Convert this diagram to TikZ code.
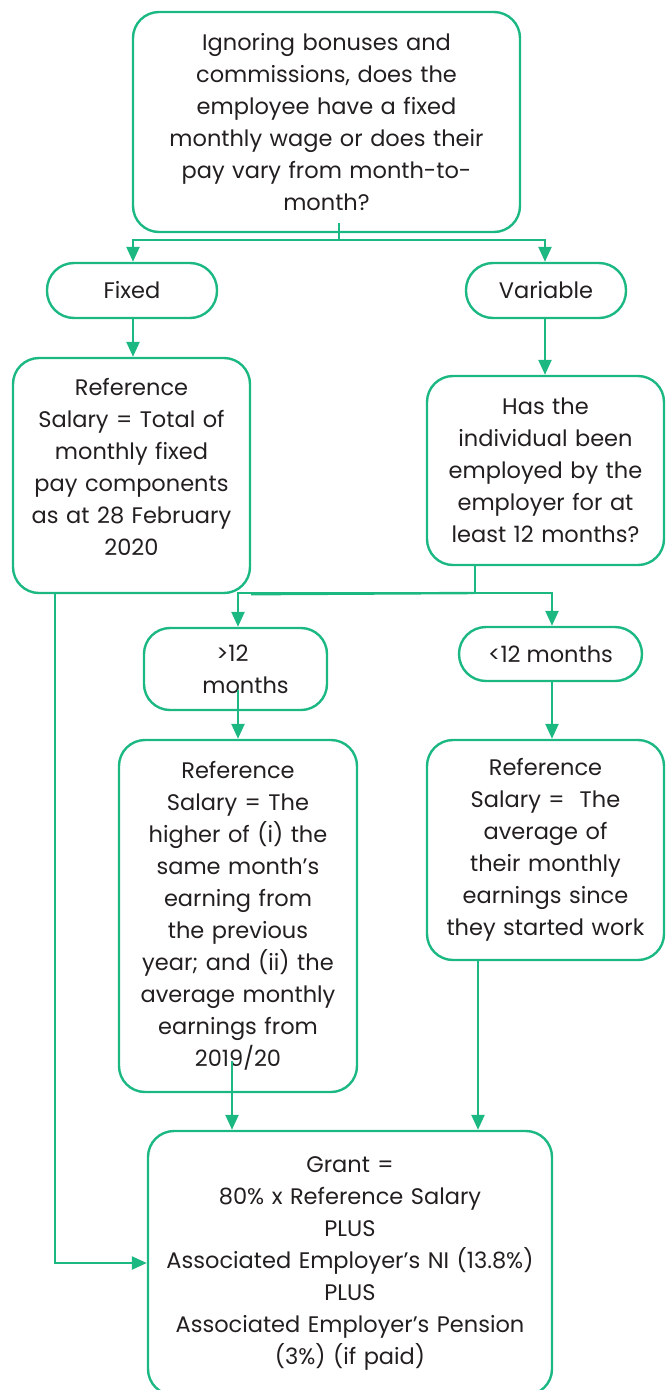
\documentclass[tikz,border=0pt]{standalone}
\usepackage{fontspec}
\setmainfont{Poppins}
\usepackage{tikz}
\usetikzlibrary{arrows.meta}
\definecolor{flowgreen}{RGB}{28,184,130}
\definecolor{inkgrey}{RGB}{35,31,32}

\begin{document}
\begin{tikzpicture}[x=1pt, y=-1pt,
  box/.style={draw=flowgreen, line width=2.4pt, rounded corners=26pt, align=center,
    text=inkgrey, inner sep=0pt, font=\fontsize{22.5}{32}\selectfont},
  pill/.style={box, rounded corners=27pt},
  arr/.style={draw=flowgreen, line width=2.4pt, -{Triangle[length=15pt, width=13pt]}},
  link/.style={draw=flowgreen, line width=2.4pt}]
\useasboundingbox (0,0) rectangle (665,1390);

\node[box, minimum width=387pt, minimum height=220pt, text width=345pt] (q) at (326.5,122)
  {Ignoring bonuses and\\ commissions, does the\\ employee have a fixed\\ monthly wage or does their\\ pay vary from month-to-\\ month?};
\node[pill, minimum width=170pt, minimum height=55pt] (fixed) at (132,290.5) {Fixed};
\node[pill, minimum width=160pt, minimum height=55pt] (variable) at (546,290.5) {Variable};
\node[box, minimum width=237pt, minimum height=235pt, text width=225pt] (reffixed) at (131.5,475.5)
  {Reference\\ Salary = Total of\\ monthly fixed\\ pay components\\ as at 28 February\\ 2020\\[-14pt]\mbox{}};
\node[box, minimum width=237pt, minimum height=189pt, text width=225pt] (tenure) at (545.5,470.5)
  {Has the\\ individual been\\ employed by the\\ employer for at\\ least 12 months?};
\node[box, minimum width=183pt, minimum height=82pt, text width=175pt] (gt12) at (235.5,669)
  {\hspace*{-6pt}>12\\ \hspace*{20pt}months};
\node[pill, minimum width=183pt, minimum height=54pt] (lt12) at (550.5,654) {<12 months};
\node[box, minimum width=238pt, minimum height=352pt, text width=230pt] (refgt) at (238,916)
  {Reference\\ Salary = The\\ higher of (i) the\\ same month’s\\ earning from\\ the previous\\ year; and (ii) the\\ average monthly\\ earnings from\\ 2019/20};
\node[box, minimum width=237pt, minimum height=220pt, text width=230pt] (reflt) at (545.5,850)
  {Reference\\ Salary = \ The\\ average of\\ their monthly\\ earnings since\\ they started work};
\node[box, minimum width=404pt, minimum height=264pt, text width=395pt] (grant) at (350,1263)
  {Grant =\\ 80\% x Reference Salary\\ PLUS\\ Associated Employer’s NI (13.8\%)\\ PLUS\\ Associated Employer’s Pension\\ (3\%) (if paid)};

% split points
\coordinate (qsplit) at (339,240);
\coordinate (tsplit) at (475,593);

\draw[link] ([yshift=10pt]q.south -| qsplit) -- (qsplit);
\draw[arr] (qsplit) -| ([xshift=1pt]fixed.north);
\draw[arr] (qsplit) -| ([xshift=-1pt]variable.north);
\draw[arr] ([xshift=1pt]fixed.south) -- ([xshift=1pt]fixed.south |- reffixed.north);
\draw[arr] ([xshift=-1pt]variable.south) -- ([xshift=-1pt]variable.south |- tenure.north);

\draw[link] (tenure.south -| tsplit) -- (tsplit);
\draw[arr] (tsplit) -| ([xshift=2.5pt]gt12.north);
\draw[arr] (tsplit) -| ([xshift=1.5pt]lt12.north);
\draw[link] (tsplit) -- (reffixed.south east);

\draw[arr] ([xshift=2.5pt, yshift=-21pt]gt12.center) -- ([xshift=2.5pt]gt12.center |- refgt.north);
\draw[arr] ([xshift=1.5pt]lt12.south) -- ([xshift=1.5pt]lt12.south |- reflt.north);
\draw[arr] ([xshift=-6pt, yshift=32pt]refgt.south) -- ([xshift=-6pt]refgt.south |- grant.north);
\draw[arr] ([xshift=-67.5pt]reflt.south) -- ([xshift=-67.5pt]reflt.south |- grant.north);
\draw[arr] ([xshift=-76.5pt]reffixed.south) |- (grant.west);
\end{tikzpicture}
\end{document}
